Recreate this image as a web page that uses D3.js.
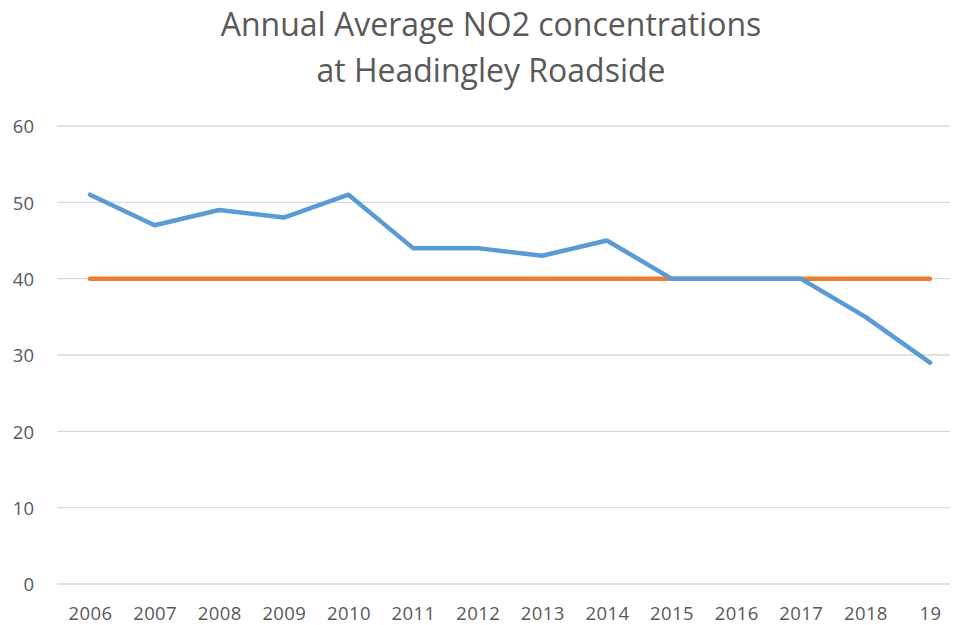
<!DOCTYPE html>
<html><head><meta charset="utf-8">
<script src="https://cdn.jsdelivr.net/npm/d3@7"></script>
<style>body{margin:0;background:#fff}svg{display:block}text{font-family:"Open Sans","Liberation Sans",sans-serif;fill:#595959}</style>
</head><body><svg id="c" width="953" height="625"></svg>
<script>
const categories = ["2006","2007","2008","2009","2010","2011","2012","2013","2014","2015","2016","2017","2018","19"];
const no2 = [51,47,49,48,51,44,44,43,45,40,40,40,35,29];
const limit = [40,40,40,40,40,40,40,40,40,40,40,40,40,40];
const yTicks = [0,10,20,30,40,50,60];
const titleLines = ["Annual Average NO2 concentrations","at Headingley Roadside"];

const svg = d3.select("#c");
const x = d3.scalePoint().domain(categories).range([90,930]);
const y = d3.scaleLinear().domain([0,60]).range([584,126]);

svg.append("g").selectAll("line").data(yTicks).join("line")
  .attr("x1",57).attr("x2",950).attr("y1",d=>y(d)).attr("y2",d=>y(d))
  .attr("stroke","#d9d9d9").attr("stroke-width",1.3);

const ya = svg.append("g").attr("transform","translate(44,0)")
  .call(d3.axisLeft(y).tickValues(yTicks).tickSize(0).tickPadding(10));
ya.select(".domain").remove();
ya.selectAll("text").attr("font-size",18.5).attr("dy","0.36em").style("fill","#595959").attr("font-family",'"Open Sans",sans-serif');

const xa = svg.append("g").attr("transform","translate(0,620)")
  .call(d3.axisBottom(x).tickSize(0).tickPadding(0));
xa.select(".domain").remove();
xa.selectAll("text").attr("y",0).attr("dy",0).attr("font-size",18.5).attr("letter-spacing","0.4px")
  .style("fill","#595959").attr("font-family",'"Open Sans",sans-serif');

const line = d3.line().x((d,i)=>x(categories[i])).y(d=>y(d));
svg.append("path").datum(limit).attr("d",line).attr("fill","none")
  .attr("stroke","#ED7D31").attr("stroke-width",4.5).attr("stroke-linecap","round").attr("stroke-linejoin","round");
svg.append("path").datum(no2).attr("d",line).attr("fill","none")
  .attr("stroke","#5B9BD5").attr("stroke-width",4.5).attr("stroke-linecap","round").attr("stroke-linejoin","round");

svg.append("g").selectAll("text").data(titleLines).join("text")
  .attr("x",491).attr("y",(d,i)=>36+i*46).attr("text-anchor","middle")
  .attr("font-size",32).text(d=>d);
</script></body></html>
